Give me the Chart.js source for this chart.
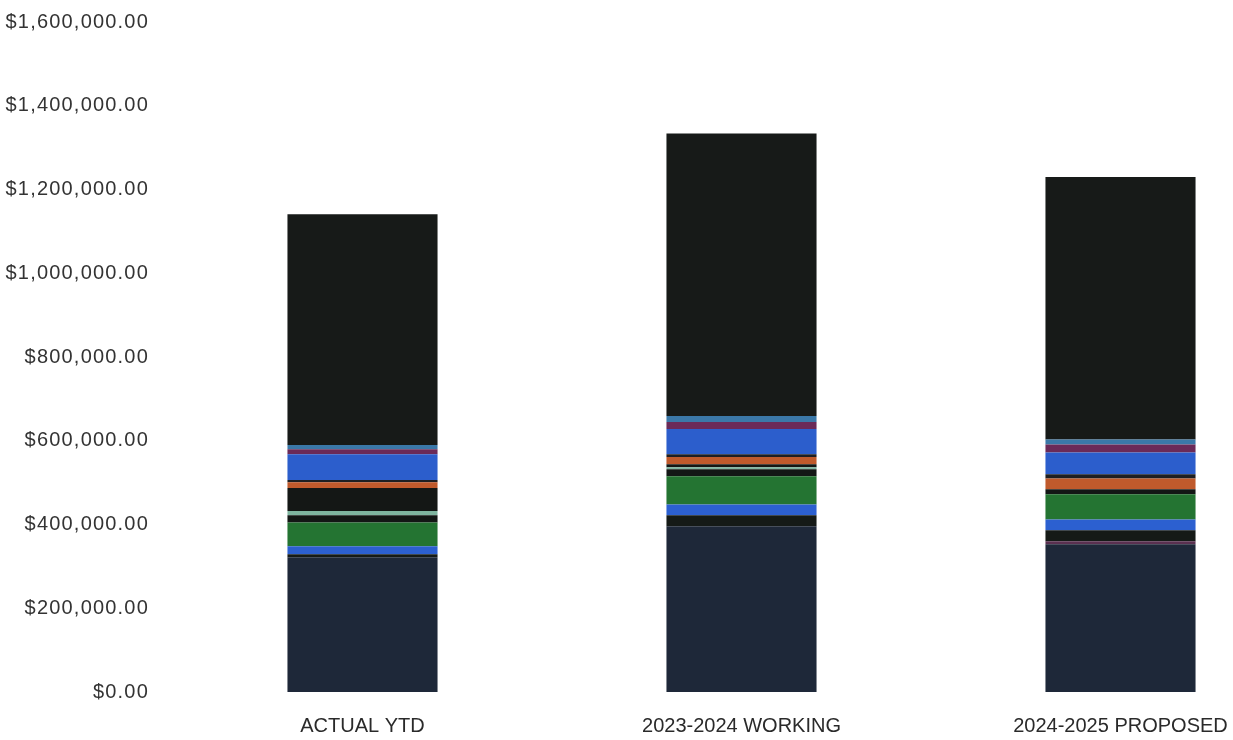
<!DOCTYPE html>
<html lang="en">
<head>
    <meta charset="utf-8">
    <title>Budget comparison</title>
    <script src="https://cdn.jsdelivr.net/npm/chart.js@4.4.0/dist/chart.umd.min.js"></script>
    <style>
        html, body { margin: 0; padding: 0; background: #fff; overflow: hidden; }
        #wrap { width: 1310px; height: 747px; margin-top: -6px; }
    </style>
</head>
<body>
<div id="wrap"><canvas id="barChart"></canvas></div>
<script>
    // categories + stacked segments (bottom to top), values in dollars
    const categories = ["ACTUAL YTD", "2023-2024 WORKING", "2024-2025 PROPOSED"];
    const yTicks = [0, 200000, 400000, 600000, 800000, 1000000, 1200000, 1400000, 1600000];

    const navyBase    = [322000, 396000, 353000];
    const purpleLine  = [0, 0, 7000];
    const blackLow    = [7000, 26000, 26000];
    const blueLow     = [19000, 26000, 26000];
    const greenMid    = [57000, 67000, 60000];
    const blackThin   = [17000, 17000, 12000];
    const paleLine    = [10000, 5000, 0];
    const blackMid    = [55000, 7000, 0];
    const orangeMid   = [14000, 17000, 26000];
    const darkLine    = [5000, 7000, 10000];
    const blueHigh    = [62000, 60000, 52000];
    const purpleHigh  = [12000, 17000, 19000];
    const tealHigh    = [10000, 14000, 12000];
    const blackTop    = [551000, 675000, 627000];

    const series = [
        [navyBase, '#1e2839'],
        [purpleLine, '#5a3050'],
        [blackLow, '#151a17'],
        [blueLow, '#2c60d0'],
        [greenMid, '#247432'],
        [blackThin, '#131715'],
        [paleLine, '#7fb5a0'],
        [blackMid, '#141715'],
        [orangeMid, '#c05a2c'],
        [darkLine, '#1e1f22'],
        [blueHigh, '#2c5ecc'],
        [purpleHigh, '#6b2a58'],
        [tealHigh, '#3b78a8'],
        [blackTop, '#171a18']
    ];

    const money = (v) => '$' + v.toLocaleString('en-US', {minimumFractionDigits: 2, maximumFractionDigits: 2});

    // y labels in the scan are widely spaced, x labels are not
    const spacing = {
        id: 'spacing',
        beforeDraw: (chart) => { chart.ctx.letterSpacing = '1.2px'; },
        beforeDatasetsDraw: (chart) => { chart.ctx.letterSpacing = '0px'; }
    };

    let ctx = document.getElementById('barChart').getContext('2d');
    let data = {
        labels: categories,
        datasets: series.map(([vals, col], i) => ({
            label: 'seg' + i,
            data: vals,
            backgroundColor: col,
            borderWidth: 0,
            barPercentage: 0.396,
            categoryPercentage: 1.0
        }))
    };

    let myBarChart = new Chart(ctx, {
        type: 'bar',
        data: data,
        plugins: [spacing],
        options: {
            responsive: true,
            maintainAspectRatio: false,
            animation: false,
            layout: { padding: { top: 0, bottom: 0, left: 0, right: 0 } },
            plugins: { legend: { display: false }, tooltip: { enabled: false } },
            scales: {
                x: {
                    stacked: true,
                    grid: { display: false },
                    border: { display: false },
                    afterFit: (axis) => { axis.height = 49; },
                    ticks: { z: 1, color: '#2a2a2a', font: { family: 'Liberation Sans', size: 20 }, padding: 14, maxRotation: 0 }
                },
                y: {
                    stacked: true,
                    min: 0,
                    max: 1600000,
                    afterBuildTicks: (axis) => { axis.ticks = yTicks.map(v => ({value: v})); },
                    afterFit: (axis) => { axis.width = 173; },
                    grid: { display: false },
                    border: { display: false },
                    ticks: {
                        color: '#333',
                        font: { family: 'Liberation Sans', size: 20 },
                        padding: 16,
                        callback: (v) => money(v)
                    }
                }
            }
        }
    });
</script>
</body>
</html>
